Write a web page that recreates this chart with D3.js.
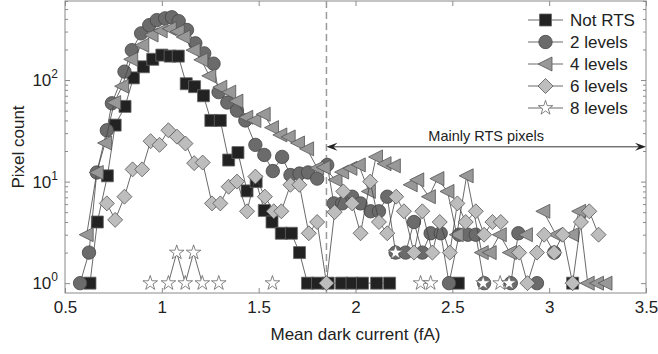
<!DOCTYPE html>
<html>
<head>
<meta charset="utf-8">
<script src="https://cdn.jsdelivr.net/npm/d3@7"></script>
<style>
  body { margin: 0; background: #fff; }
  text { font-family: "Liberation Sans", Arial, sans-serif; fill: #222; }
</style>
</head>
<body>
<div id="chart"></div>
<script>
// Data (x = mean dark current in fA, y = pixel count)
// ==========================================
var notRtsX = [0.629, 0.667, 0.719, 0.759, 0.810, 0.853, 0.905, 0.953, 1.000, 1.043, 1.085, 1.126, 1.169, 1.215, 1.253, 1.302, 1.345, 1.393, 1.440, 1.487, 1.529, 1.569, 1.617, 1.669, 1.711, 1.752, 1.804, 1.859, 1.928, 1.982, 2.036, 2.109, 2.176, 2.531, 3.121];
var notRtsY = [1, 4, 11.4, 36, 55, 105, 135, 160, 176, 172, 172, 92, 86, 70, 40, 40, 16.3, 19.3, 8.1, 10, 5.2, 4, 3.1, 3.1, 2, 1, 1, 1, 1, 1, 1, 1, 1, 1, 1];

var lvl2X = [0.578, 0.624, 0.664, 0.716, 0.742, 0.807, 0.845, 0.893, 0.935, 0.974, 1.017, 1.052, 1.087, 1.130, 1.173, 1.219, 1.267, 1.293, 1.338, 1.388, 1.431, 1.483, 1.529, 1.573, 1.621, 1.664, 1.711, 1.755, 1.802, 1.854, 1.888, 1.931, 1.983, 2.026, 2.078, 2.121, 2.164, 2.207, 2.259, 2.302, 2.345, 2.388, 2.440, 2.483, 2.535, 2.580, 2.621, 2.664, 2.802, 2.841, 2.937, 3.026];
var lvl2Y = [1, 2, 12.3, 32, 59, 121, 197, 288, 347, 389, 405, 415, 380, 311, 230, 183, 145, 76, 60, 50, 40, 23, 18.3, 12.7, 17.5, 11.6, 12, 12.3, 10.7, 14.6, 6.1, 6.1, 7.1, 6.1, 5.1, 5.1, 7.1, 2, 2, 4, 2, 3.1, 3.1, 1, 3, 3, 3, 1, 1, 3.1, 1, 2];

var lvl4X = [0.612, 0.664, 0.707, 0.754, 0.795, 0.842, 0.899, 0.947, 0.994, 1.041, 1.082, 1.113, 1.164, 1.204, 1.245, 1.302, 1.348, 1.385, 1.436, 1.478, 1.526, 1.569, 1.612, 1.655, 1.703, 1.750, 1.802, 1.836, 1.897, 1.931, 1.974, 2.017, 2.069, 2.106, 2.150, 2.198, 2.285, 2.319, 2.379, 2.423, 2.475, 2.523, 2.574, 2.652, 2.693, 2.745, 2.797, 2.880, 2.970, 3.035, 3.118, 3.155, 3.199, 3.247, 3.291];
var lvl4Y = [3, 12.3, 24, 60, 87, 160, 220, 278, 305, 320, 300, 265, 197, 158, 110, 85, 76, 62, 43, 40, 46, 34, 28.8, 27.5, 24, 21, 13.6, 13.8, 10.4, 12.4, 13.5, 14.6, 8, 17.5, 15, 14.3, 9.3, 10.4, 7.1, 10.7, 8, 3, 11.4, 2, 2, 3, 2, 3, 5.1, 3, 3, 5.1, 1, 1, 1];

var lvl6X = [0.716, 0.759, 0.807, 0.849, 0.898, 0.942, 0.988, 1.034, 1.078, 1.122, 1.167, 1.211, 1.259, 1.302, 1.345, 1.388, 1.440, 1.483, 1.532, 1.578, 1.617, 1.664, 1.710, 1.759, 1.802, 1.850, 1.892, 1.937, 1.983, 2.026, 2.076, 2.121, 2.164, 2.210, 2.250, 2.302, 2.345, 2.397, 2.435, 2.487, 2.526, 2.569, 2.621, 2.664, 2.707, 2.750, 2.845, 2.888, 2.937, 2.974, 3.026, 3.070, 3.121, 3.164, 3.207, 3.255];
var lvl6Y = [6.1, 4.2, 7.1, 13.2, 13.2, 25, 23, 32, 27.7, 23.7, 15.2, 15.4, 6.1, 6.1, 8.9, 10, 5.1, 11.2, 7.1, 5.1, 5.1, 9.3, 9.3, 3.1, 4, 1, 5, 8, 6.1, 3.1, 10, 4, 3.1, 7.1, 5.1, 2, 5.1, 2, 4, 2, 6.1, 4, 5.1, 3, 4, 4, 2, 1, 2, 3, 2, 3, 1, 4, 5.1, 3];

var lvl8X = [0.940, 1.034, 1.077, 1.121, 1.164, 1.209, 1.294, 1.571, 2.207, 2.336, 2.388, 2.659, 2.747, 2.793];
var lvl8Y = [1, 1, 2, 1, 2, 1, 1, 1, 2, 1, 1, 1, 1, 1];

var seriesNames = ["Not RTS", "2 levels", "4 levels", "6 levels", "8 levels"];
var xTicks = [0.5, 1, 1.5, 2, 2.5, 3, 3.5];
var yMajorTicks = [1, 10, 100];
var yExponents = ["0", "1", "2"];

// annotation: start of the mainly RTS region and the arrow height
var rtsStart = 1.85;
var arrowLevel = 22;
var rtsLabel = "Mainly RTS pixels";

// Set up the chart
// ==========================================
var svgWidth = 658;
var svgHeight = 354;

var margin = { top: 1, right: 12, bottom: 61, left: 65 };
var width = svgWidth - margin.left - margin.right;
var height = svgHeight - margin.top - margin.bottom;

var svg = d3.select("#chart")
    .append("svg")
    .attr("width", svgWidth)
    .attr("height", svgHeight);

var chartGroup = svg.append("g")
    .attr("transform", `translate(${margin.left}, ${margin.top})`);

// Scales
var xScale = d3.scaleLinear().domain([0.5, 3.5]).range([0, width]);
var yScale = d3.scaleLog().domain([0.8, 600]).range([height, 0]);

// minor ticks for the log axis
var yMinorTicks = [];
[1, 10, 100].forEach(function(dec) {
    for (var k = 2; k <= 9; k++) {
        if (k * dec <= 600) yMinorTicks.push(k * dec);
    }
});

var axisColor = "#8a8a8a";

// Axes
// ==========================================
var bottomAxis = chartGroup.append("g")
    .attr("transform", `translate(0, ${height})`)
    .call(d3.axisBottom(xScale).tickValues(xTicks).tickSize(-5).tickPadding(8).tickFormat(function(d) { return d; }));

var topAxis = chartGroup.append("g")
    .call(d3.axisTop(xScale).tickValues(xTicks).tickSize(-5).tickFormat(""));

var leftMajor = chartGroup.append("g")
    .call(d3.axisLeft(yScale).tickValues(yMajorTicks).tickSize(-5).tickFormat(""));
var leftMinor = chartGroup.append("g")
    .call(d3.axisLeft(yScale).tickValues(yMinorTicks).tickSize(-3).tickFormat(""));
var rightMajor = chartGroup.append("g")
    .attr("transform", `translate(${width}, 0)`)
    .call(d3.axisRight(yScale).tickValues(yMajorTicks).tickSize(-5).tickFormat(""));
var rightMinor = chartGroup.append("g")
    .attr("transform", `translate(${width}, 0)`)
    .call(d3.axisRight(yScale).tickValues(yMinorTicks).tickSize(-3).tickFormat(""));

chartGroup.selectAll(".domain").remove();
chartGroup.selectAll(".tick line").attr("stroke", axisColor);
bottomAxis.selectAll("text")
    .style("font-size", "17px")
    .style("font-family", "'Liberation Sans', Arial, sans-serif")
    .attr("fill", "#222");

// y tick labels as 10 with superscript
yMajorTicks.forEach(function(v, i) {
    var t = chartGroup.append("text")
        .attr("x", -7)
        .attr("y", yScale(v) + 6)
        .attr("text-anchor", "end")
        .style("font-size", "17px");
    t.append("tspan").text("10");
    t.append("tspan")
        .attr("dy", -8)
        .style("font-size", "12px")
        .text(yExponents[i]);
});

// frame
chartGroup.append("rect")
    .attr("x", 0).attr("y", 0)
    .attr("width", width).attr("height", height)
    .attr("fill", "none")
    .attr("stroke", axisColor)
    .attr("stroke-width", 1);

// dashed boundary of the RTS region
chartGroup.append("line")
    .attr("x1", xScale(rtsStart)).attr("x2", xScale(rtsStart))
    .attr("y1", 0).attr("y2", height)
    .attr("stroke", "#9a9a9a")
    .attr("stroke-width", 1.5)
    .attr("stroke-dasharray", "7,4");

// Markers
// ==========================================
function markerPath(type) {
    if (type === "square") return "M-6,-6H6V6H-6Z";
    if (type === "triangle") return "M-7.5,0L6.5,-7L6.5,7Z";
    if (type === "diamond") return "M0,-7.5L7.5,0L0,7.5L-7.5,0Z";
    if (type === "star") return d3.symbol(d3.symbolStar, 66)();
    return d3.symbol(d3.symbolCircle, Math.PI * 6.7 * 6.7)();
}

var series = [
    { name: seriesNames[0], xs: notRtsX, ys: notRtsY, type: "square",   fill: "#222222", stroke: "#666" },
    { name: seriesNames[1], xs: lvl2X,   ys: lvl2Y,   type: "circle",   fill: "#6b6b6b", stroke: "#444" },
    { name: seriesNames[2], xs: lvl4X,   ys: lvl4Y,   type: "triangle", fill: "#989898", stroke: "#555" },
    { name: seriesNames[3], xs: lvl6X,   ys: lvl6Y,   type: "diamond",  fill: "#bdbdbd", stroke: "#555" },
    { name: seriesNames[4], xs: lvl8X,   ys: lvl8Y,   type: "star",     fill: "#ffffff", stroke: "#666" }
];

// empty bins leave holes on a log axis, so lines only join neighbouring bins
var gapLimit = 0.08;
function segments(xs, ys) {
    var segs = [], cur = [];
    xs.forEach(function(x, i) {
        if (cur.length && x - xs[i - 1] > gapLimit) {
            segs.push(cur);
            cur = [];
        }
        cur.push([x, ys[i]]);
    });
    if (cur.length) segs.push(cur);
    return segs.filter(function(s) { return s.length > 1; });
}

var line = d3.line()
    .x(function(d) { return xScale(d[0]); })
    .y(function(d) { return yScale(d[1]); });

var plotGroup = chartGroup.append("g");

series.forEach(function(s) {
    var g = plotGroup.append("g");
    g.selectAll("path.seg")
        .data(segments(s.xs, s.ys))
        .enter()
        .append("path")
        .attr("class", "seg")
        .attr("d", line)
        .attr("fill", "none")
        .attr("stroke", "#444")
        .attr("stroke-width", 0.8);

    g.selectAll("path.mark")
        .data(s.xs.map(function(x, i) { return [x, s.ys[i]]; }))
        .enter()
        .append("path")
        .attr("class", "mark")
        .attr("transform", function(d) { return `translate(${xScale(d[0])}, ${yScale(d[1])})`; })
        .attr("d", markerPath(s.type))
        .attr("fill", s.fill)
        .attr("stroke", s.stroke)
        .attr("stroke-width", 0.8);
});

// Arrow for the mainly RTS region
// ==========================================
var ay = yScale(arrowLevel);
var ax1 = xScale(rtsStart);
var ax2 = xScale(3.5);
chartGroup.append("line")
    .attr("x1", ax1 + 4).attr("x2", ax2 - 4)
    .attr("y1", ay).attr("y2", ay)
    .attr("stroke", "#333")
    .attr("stroke-width", 1);
chartGroup.append("path")
    .attr("d", `M${ax1},${ay}L${ax1 + 11},${ay - 4}L${ax1 + 7},${ay}L${ax1 + 11},${ay + 4}Z`)
    .attr("fill", "#222");
chartGroup.append("path")
    .attr("d", `M${ax2},${ay}L${ax2 - 11},${ay - 4}L${ax2 - 7},${ay}L${ax2 - 11},${ay + 4}Z`)
    .attr("fill", "#222");
chartGroup.append("text")
    .attr("x", xScale((rtsStart + 3.5) / 2))
    .attr("y", ay - 6)
    .attr("text-anchor", "middle")
    .style("font-size", "14.5px")
    .text(rtsLabel);

// Legend
// ==========================================
var legend = svg.append("g").attr("transform", "translate(528, 20)");
series.forEach(function(s, i) {
    var row = legend.append("g").attr("transform", `translate(0, ${i * 22})`);
    row.append("line")
        .attr("x1", 0).attr("x2", 35)
        .attr("stroke", "#444").attr("stroke-width", 0.8);
    row.append("path")
        .attr("transform", "translate(17.5, 0)")
        .attr("d", markerPath(s.type))
        .attr("fill", s.fill)
        .attr("stroke", s.stroke)
        .attr("stroke-width", 0.8);
    row.append("text")
        .attr("x", 42)
        .attr("y", 6)
        .style("font-size", "17px")
        .text(s.name);
});

// Axis titles
chartGroup.append("text")
    .attr("x", width / 2)
    .attr("y", height + 47)
    .attr("text-anchor", "middle")
    .style("font-size", "17px")
    .text("Mean dark current (fA)");

chartGroup.append("text")
    .attr("transform", "rotate(-90)")
    .attr("x", -height / 2)
    .attr("y", -41)
    .attr("text-anchor", "middle")
    .style("font-size", "17px")
    .text("Pixel count");
</script>
</body>
</html>
